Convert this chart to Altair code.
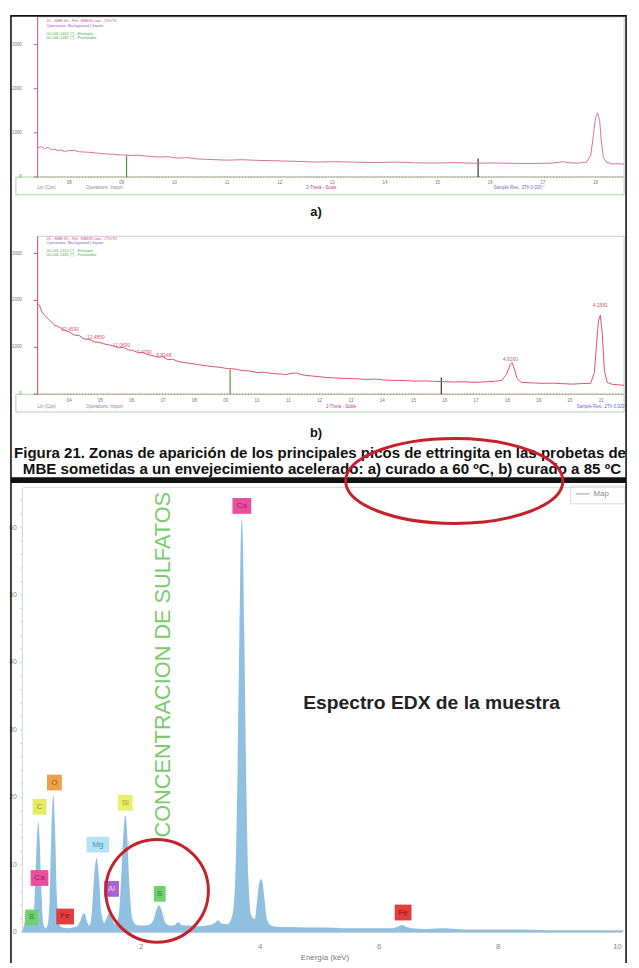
import altair as alt
import pandas as pd

FONT = "Liberation Sans"
W = 631
HA, HB, HC = 164, 220, 545

# ---------------- Panel a) XRD : 2-theta (deg) vs counts ----------------
A_2THETA = [7.40, 7.47, 7.53, 7.60, 7.66, 7.72, 7.79, 7.85, 7.91, 7.98, 8.09, 8.20, 8.38, 8.47,
            8.56, 8.70, 8.84, 8.97, 9.09, 9.20, 9.31, 9.50, 9.69, 9.88, 10.06, 10.25, 10.44,
            10.72, 11.00, 11.28, 11.56, 11.85, 12.13, 12.41, 12.69, 13.06, 13.44, 13.81, 14.19,
            14.56, 14.94, 15.31, 15.69, 16.06, 16.44, 16.81, 17.19, 17.38, 17.52, 17.66, 17.75,
            17.83, 17.91, 17.96, 18.00, 18.04, 18.08, 18.11, 18.15, 18.21, 18.32, 18.43, 18.54]
A_COUNTS = [655, 690, 640, 672, 618, 630, 598, 612, 575, 596, 604, 570, 560, 548, 537, 522, 515,
            500, 498, 486, 492, 470, 452, 460, 428, 440, 408, 395, 382, 392, 378, 370, 360, 352,
            338, 348, 336, 325, 338, 322, 316, 326, 312, 318, 310, 306, 316, 345, 322, 314, 330,
            336, 492, 940, 1342, 1454, 1275, 828, 447, 336, 296, 302, 290]
A_STICK_2THETA = [9.09, 15.77]
A_STICK_COUNTS = [500, 425]
A_YTICKS = [0, 1000, 2000, 3000]
A_XTICKS = [8, 9, 10, 11, 12, 13, 14, 15, 16, 17, 18]
A_XLABELS = ["08", "09", "10", "11", "12", "13", "14", "15", "16", "17", "18"]
A_LEGEND = ["01 - MBE 60 - File: MBE60.raw - 2Th/Th",
            "Operations: Background | Import",
            "00-041-1451 (*) - Ettringite",
            "00-044-1481 (*) - Portlandite"]

# ---------------- Panel b) XRD ----------------
B_2THETA = [2.99, 3.05, 3.12, 3.21, 3.37, 3.53, 3.68, 3.84, 4.00, 4.16,
            4.32, 4.47, 4.63, 4.79, 4.95, 5.10, 5.26, 5.42, 5.58, 5.73,
            5.89, 6.05, 6.21, 6.36, 6.52, 6.68, 6.84, 7.00, 7.15, 7.31,
            7.47, 7.63, 7.79, 7.95, 8.10, 8.34, 8.57, 8.81, 9.05, 9.28,
            9.52, 9.76, 9.99, 10.23, 10.47, 10.70, 10.94, 11.10, 11.26, 11.41,
            11.57, 11.89, 12.20, 12.52, 12.84, 13.15, 13.47, 13.78, 14.10, 14.41,
            14.73, 15.04, 15.36, 15.67, 15.99, 16.30, 16.62, 16.93, 17.25, 17.56,
            17.82, 17.97, 18.09, 18.15, 18.22, 18.31, 18.44, 18.83, 19.14, 19.46,
            19.77, 20.09, 20.40, 20.66, 20.78, 20.84, 20.91, 20.97, 21.03, 21.10,
            21.19, 21.35, 21.54, 21.73]
B_COUNTS = [1937, 1895, 1768, 1684, 1580, 1474, 1430, 1368, 1330, 1263,
            1250, 1179, 1170, 1116, 1110, 1075, 1053, 1030, 989, 1000,
            947, 930, 884, 895, 842, 820, 790, 800, 737, 745,
            700, 680, 665, 650, 632, 610, 589, 575, 547, 540,
            505, 495, 463, 470, 442, 432, 421, 445, 452, 420,
            400, 380, 358, 345, 337, 330, 316, 322, 300, 295,
            290, 280, 284, 274, 268, 260, 266, 253, 262, 274,
            295, 421, 632, 674, 547, 337, 253, 240, 232, 236,
            225, 215, 228, 232, 463, 989, 1558, 1684, 1305, 505,
            253, 211, 200, 189]
B_STICK_2THETA = [9.14, 15.89]
B_STICK_COUNTS = [526, 358]
B_YTICKS = [0, 1000, 2000, 3000]
B_XTICKS = [4, 5, 6, 7, 8, 9, 10, 11, 12, 13, 14, 15, 16, 17, 18, 19, 20, 21]
B_DLAB_TEXT = ["22.4590", "12.4850", "11.0690", "7.4790", "6.8248", "4.9160", "4.2581"]
B_DLAB_2THETA = [4.03, 4.85, 5.67, 6.40, 7.03, 18.10, 20.97]
B_DLAB_COUNTS = [1389, 1221, 1053, 905, 842, 758, 1895]

CAPTION_1 = "Figura 21. Zonas de aparición de los principales picos de ettringita en las probetas de"
CAPTION_2 = "MBE sometidas a un envejecimiento acelerado: a) curado a 60 ºC, b) curado a 85 ºC"

# ---------------- EDX spectrum : energy (keV) vs counts ----------------
EDX_KEV = [0.00, 0.04, 0.08, 0.12, 0.16, 0.19, 0.22, 0.25, 0.27, 0.29, 0.32, 0.35, 0.39, 0.43,
           0.46, 0.49, 0.52, 0.55, 0.58, 0.62, 0.68, 0.76, 0.84, 0.92, 0.98, 1.02, 1.05, 1.08,
           1.13, 1.17, 1.21, 1.25, 1.29, 1.33, 1.38, 1.42, 1.46, 1.50, 1.56, 1.62, 1.67, 1.71,
           1.73, 1.76, 1.80, 1.85, 1.92, 2.02, 2.12, 2.20, 2.26, 2.30, 2.34, 2.40, 2.48, 2.56,
           2.62, 2.68, 2.80, 2.95, 3.10, 3.22, 3.29, 3.35, 3.45, 3.53, 3.58, 3.62, 3.65, 3.67,
           3.69, 3.71, 3.73, 3.76, 3.80, 3.85, 3.91, 3.95, 3.98, 4.01, 4.04, 4.07, 4.11, 4.18,
           4.30, 4.50, 4.80, 5.10, 5.40, 5.70, 6.00, 6.20, 6.30, 6.38, 6.46, 6.55, 6.80, 7.06,
           7.30, 7.60, 8.00, 8.40, 8.80, 9.20, 9.60, 10.00, 10.10]
EDX_COUNTS = [0.0, 1.5, 3.0, 2.6, 1.2, 2.0, 8.0, 14.5, 16.4, 14.0, 6.5, 1.5, 0.6, 1.2,
              5.0, 15.0, 20.3, 15.5, 5.5, 1.2, 0.7, 0.6, 0.7, 0.9, 1.8, 2.7, 2.8, 1.8,
              1.0, 3.0, 8.5, 11.0, 8.0, 2.8, 1.4, 2.2, 2.9, 2.2, 1.2, 2.5, 9.5, 16.0,
              17.4, 15.0, 7.0, 2.0, 1.1, 1.0, 1.1, 1.7, 3.5, 4.0, 3.3, 1.5, 1.0, 1.1,
              1.5, 1.1, 1.0, 0.9, 1.0, 1.3, 1.8, 1.3, 1.2, 2.5, 8.0, 25.0, 45.0, 57.0,
              61.3, 57.0, 45.0, 25.0, 8.0, 2.5, 2.0, 5.0, 7.2, 7.9, 7.2, 5.0, 2.0, 1.0,
              0.8, 0.8, 0.7, 0.7, 0.6, 0.6, 0.6, 0.6, 0.8, 1.1, 0.8, 0.6, 0.5, 0.6,
              0.5, 0.4, 0.4, 0.4, 0.3, 0.3, 0.3, 0.3, 0.3]
EL_TEXT = ["Ca", "C", "O", "Ca", "S", "Fe", "Mg", "Al", "Si", "S", "Fe"]
EL_KEV = [3.69, 0.29, 0.54, 0.29, 0.158, 0.72, 1.27, 1.50, 1.73, 2.31, 6.40]
EL_COUNTS = [63.2, 18.6, 22.2, 8.05, 2.2, 2.34, 13.0, 6.44, 19.2, 5.7, 2.93]
EDX_YTICKS = [0, 10, 20, 30, 40, 50, 60]
EDX_XTICKS = [2, 4, 6, 8, 10]
CIRCLE_KEV = [7.26, 2.265]
CIRCLE_COUNTS = [66.9, 6.15]

# ---------------- styles ----------------
EL_COLORS = {"Ca": ("#e84f9e", "#9c1d5e"), "C": ("#e2ec62", "#8e9618"),
             "O": ("#eca24c", "#9a5a10"), "S": ("#70d070", "#2e7d2e"),
             "Fe": ("#e33d3d", "#8c1010"), "Mg": ("#b5e2f2", "#3c8ec0"),
             "Al": ("#a862d8", "#e6d2f8"), "Si": ("#ecec6e", "#a0a020")}
EL_BOX_W = [19, 14, 15, 18, 13, 18, 23, 15, 15, 12, 17]
EL_BOX_H = 16

dummy = pd.DataFrame({"d": [0]})


def xs(field, dom):
    return alt.X(field, type="quantitative", scale=alt.Scale(domain=dom, nice=False, zero=False), axis=None)


def ys(field, dom):
    return alt.Y(field, type="quantitative", scale=alt.Scale(domain=dom, nice=False, zero=False), axis=None)


def vtext(txt, x, y, size, color, weight="normal", align="center", angle=0):
    return alt.Chart(dummy).mark_text(text=txt, font=FONT, fontSize=size, color=color,
                                      fontWeight=weight, align=align, baseline="middle",
                                      angle=angle).encode(x=alt.value(x), y=alt.value(y))


def vrule(x, x2, y, y2, color, width=1.0, dash=None):
    kw = dict(color=color, strokeWidth=width)
    if dash:
        kw["strokeDash"] = dash
    return alt.Chart(dummy).mark_rule(**kw).encode(
        x=alt.value(x), x2=alt.value(x2), y=alt.value(y), y2=alt.value(y2))


def vrect(x, x2, y, y2, fill="white", fop=0.0, stroke="#000", sw=1.0):
    return alt.Chart(dummy).mark_rect(fill=fill, fillOpacity=fop, stroke=stroke, strokeWidth=sw).encode(
        x=alt.value(x), x2=alt.value(x2), y=alt.value(y), y2=alt.value(y2))


def box_path(w, h):
    s = max(w, h)
    a, b = w / s, h / s
    return f"M{-a:.3f},{-b:.3f}L{a:.3f},{-b:.3f}L{a:.3f},{b:.3f}L{-a:.3f},{b:.3f}Z", s * s


def ellipse_path(ry):
    k = 0.5523
    return (f"M-1,0C-1,{-k*ry:.4f} {-k},{-ry:.4f} 0,{-ry:.4f}C{k},{-ry:.4f} 1,{-k*ry:.4f} 1,0"
            f"C1,{k*ry:.4f} {k},{ry:.4f} 0,{ry:.4f}C{-k},{ry:.4f} -1,{k*ry:.4f} -1,0Z")


def frame_sides(h):
    return [vrule(3, 3, 0, h, "#111", 1.6), vrule(626, 626, 0, h, "#111", 1.6)]


# ================= Panel A =================
XA = [6.837, 18.675]
YA = [0, 3669]
a_df = pd.DataFrame({"t": A_2THETA, "c": A_COUNTS})
a_st = pd.DataFrame({"t": A_STICK_2THETA, "c": A_STICK_COUNTS, "z": [0, 0],
                     "col": ["#3f9f3f", "#333333"]})
a_yt = pd.DataFrame({"v": A_YTICKS, "lab": [str(v) for v in A_YTICKS]})
a_xt = pd.DataFrame({"t": A_XTICKS, "lab": A_XLABELS})

a_layers = [
    vrect(30, 624, 2, 164, stroke="#cfcfcf", sw=1),
    vrect(8, 624, 164, 182, stroke="#a6d8a0", sw=1),
    vrule(30, 30, 2, 164, "#c85a9a", 1),
    vrule(30, 624, 164, 164, "#d9709a", 1, [1, 2]),
    alt.Chart(a_yt).mark_rule(color="#c85a9a", strokeWidth=1).encode(
        y=ys("v", YA), x=alt.value(26), x2=alt.value(30)),
    alt.Chart(a_yt).mark_text(font=FONT, fontSize=4.5, color="#777", align="right", baseline="middle").encode(
        y=ys("v", YA), x=alt.value(14), text="lab:N"),
    alt.Chart(a_xt).mark_text(font=FONT, fontSize=4.5, color="#777", baseline="middle").encode(
        x=xs("t", XA), y=alt.value(170), text="lab:N"),
    alt.Chart(a_st).mark_rule(strokeWidth=1.2).encode(
        x=xs("t", XA), y=ys("c", YA), y2="z:Q", color=alt.Color("col:N", scale=None)),
    alt.Chart(a_df).mark_line(color="#d9709a", strokeWidth=1).encode(x=xs("t", XA), y=ys("c", YA)),
    vtext("Lin (Cps)", 30, 175, 4.5, "#888", align="left"),
    vtext("Operations: Import", 79, 175, 4.5, "#888", align="left"),
    vtext("2-Theta - Scale", 302, 175, 4.5, "#c0409a", align="left"),
    vtext("Sample Res.: 2Th 0.020 °", 492, 175, 4.5, "#6a6ad0", align="left"),
    vtext(A_LEGEND[0], 39, 6, 4, "#d0509a", align="left"),
    vtext(A_LEGEND[1], 39, 11, 4, "#8a5ad0", align="left"),
    vtext(A_LEGEND[2], 39, 19, 4, "#4aaa4a", align="left"),
    vtext(A_LEGEND[3], 39, 23, 4, "#4aaa4a", align="left"),
    vtext("a)", 312, 200, 13, "#111", weight="bold"),
    vrule(3, 626, 0.8, 0.8, "#111", 1.6),
] + frame_sides(HA)
chart_a = alt.layer(*a_layers).properties(width=W, height=HA)

# ================= Panel B =================
XB = [2.044, 21.95]
YB = [0, 4632]
b_df = pd.DataFrame({"t": B_2THETA, "c": B_COUNTS})
b_st = pd.DataFrame({"t": B_STICK_2THETA, "c": B_STICK_COUNTS, "z": [0, 0],
                     "col": ["#3f9f3f", "#333333"]})
b_yt = pd.DataFrame({"v": B_YTICKS, "lab": [str(v) for v in B_YTICKS]})
b_xt = pd.DataFrame({"t": B_XTICKS, "lab": [f"{v:02d}" for v in B_XTICKS]})
b_dl = pd.DataFrame({"t": B_DLAB_2THETA, "c": B_DLAB_COUNTS, "lab": B_DLAB_TEXT})

b_layers = [
    vrect(30, 624, 60, 220, stroke="#d8c4c8", sw=1),
    vrect(8, 624, 220, 238, stroke="#a6d8a0", sw=1),
    vrule(30, 30, 60, 220, "#d4506a", 1),
    vrule(30, 624, 220, 220, "#e0506a", 1, [1, 2]),
    alt.Chart(b_yt).mark_rule(color="#d4506a", strokeWidth=1).encode(
        y=ys("v", YB), x=alt.value(26), x2=alt.value(30)),
    alt.Chart(b_yt).mark_text(font=FONT, fontSize=4.5, color="#777", align="right", baseline="middle").encode(
        y=ys("v", YB), x=alt.value(14), text="lab:N"),
    alt.Chart(b_xt).mark_text(font=FONT, fontSize=4.5, color="#777", baseline="middle").encode(
        x=xs("t", XB), y=alt.value(227), text="lab:N"),
    alt.Chart(b_st).mark_rule(strokeWidth=1.2).encode(
        x=xs("t", XB), y=ys("c", YB), y2="z:Q", color=alt.Color("col:N", scale=None)),
    alt.Chart(b_df).mark_line(color="#e0506a", strokeWidth=1).encode(x=xs("t", XB), y=ys("c", YB)),
    alt.Chart(b_dl).mark_text(font=FONT, fontSize=5, color="#e05a6a", baseline="middle").encode(
        x=xs("t", XB), y=ys("c", YB), text="lab:N"),
    vtext("Lin (Cps)", 30, 233, 4.5, "#888", align="left"),
    vtext("Operations: Import", 79, 233, 4.5, "#888", align="left"),
    vtext("2-Theta - Scale", 322, 233, 4.5, "#c0409a", align="left"),
    vtext("Sample Res.: 2Th 0.020 °", 576, 233, 4.5, "#6a6ad0", align="left"),
    vtext(A_LEGEND[0].replace("60", "85"), 39, 63, 4, "#d0509a", align="left"),
    vtext(A_LEGEND[1], 39, 67, 4, "#8a5ad0", align="left"),
    vtext(A_LEGEND[2], 39, 75, 4, "#4aaa4a", align="left"),
    vtext(A_LEGEND[3], 39, 79, 4, "#4aaa4a", align="left"),
    vtext("b)", 312, 259, 13, "#111", weight="bold"),
    vtext(CAPTION_1, 316, 280, 15.2, "#111", weight="bold"),
    vtext(CAPTION_2, 318, 296, 15.3, "#111", weight="bold"),
] + frame_sides(HB)
chart_b = alt.layer(*b_layers).properties(width=W, height=HB)

# ================= Panel C : EDX =================
XC = [-0.24, 10.23]
YC = [0, 79.76]
c_df = pd.DataFrame({"e": EDX_KEV, "c": EDX_COUNTS})
shp, sz = zip(*[box_path(w, EL_BOX_H) for w in EL_BOX_W])
c_el = pd.DataFrame({"e": EL_KEV, "c": EL_COUNTS, "lab": EL_TEXT,
                     "shp": list(shp), "sz": list(sz),
                     "fillc": [EL_COLORS[t][0] for t in EL_TEXT],
                     "txtc": [EL_COLORS[t][1] for t in EL_TEXT]})
c_yt = pd.DataFrame({"v": EDX_YTICKS, "lab": [str(v) for v in EDX_YTICKS]})
c_minor = pd.DataFrame({"v": list(range(0, 66, 2))})
c_xt = pd.DataFrame({"e": EDX_XTICKS, "lab": [str(v) for v in EDX_XTICKS]})
c_circ = pd.DataFrame({"e": CIRCLE_KEV, "c": CIRCLE_COUNTS,
                       "shp": [ellipse_path(0.391), ellipse_path(1.0)],
                       "sz": [220 * 220, 104 * 104]})

c_layers = [
    vrect(3, 626, 84, 90, fill="#111", fop=1.0, stroke="#111", sw=0),
    vrule(15, 625, 94.5, 94.5, "#dddddd", 1),
    vrect(570, 625, 93, 111, stroke="#d6d6d6", sw=1),
    vrule(575, 589, 101, 101, "#999", 1),
    vtext("Map", 593, 101, 8, "#888", align="left"),
    vrule(14.5, 14.5, 95, HC, "#cfcfcf", 1),
    alt.Chart(c_minor).mark_rule(color="#d8d8d8", strokeWidth=1).encode(
        y=ys("v", YC), x=alt.value(12), x2=alt.value(14.5)),
    alt.Chart(c_yt).mark_text(font=FONT, fontSize=7, color="#888", align="right", baseline="middle").encode(
        y=ys("v", YC), x=alt.value(9), text="lab:N"),
    alt.Chart(c_xt).mark_text(font=FONT, fontSize=8, color="#888", baseline="middle").encode(
        x=xs("e", XC), y=alt.value(560), text="lab:N"),
    vrule(14.5, 622, HC, HC, "#c6c6c6", 1),
    vtext("Energía (keV)", 321, 571, 8, "#777"),
    alt.Chart(c_df).mark_area(color="#8fc0e0", interpolate="monotone", opacity=1).encode(
        x=xs("e", XC), y=ys("c", YC)),
    alt.Chart(c_el).mark_point(filled=True, opacity=1, strokeWidth=0).encode(
        x=xs("e", XC), y=ys("c", YC), shape=alt.Shape("shp:N", scale=None),
        size=alt.Size("sz:Q", scale=None), fill=alt.Fill("fillc:N", scale=None)),
    alt.Chart(c_el).mark_text(font=FONT, fontSize=8, baseline="middle").encode(
        x=xs("e", XC), y=ys("c", YC), text="lab:N", color=alt.Color("txtc:N", scale=None)),
    vtext("CONCENTRACION DE SULFATOS", 157, 274, 22, "#78cc6c", angle=270),
    vtext("Espectro EDX de la muestra", 429, 313, 19.5, "#222", weight="bold"),
    alt.Chart(c_circ).mark_point(filled=False, stroke="#c8202a", strokeWidth=3, opacity=1).encode(
        x=xs("e", XC), y=ys("c", YC), shape=alt.Shape("shp:N", scale=None),
        size=alt.Size("sz:Q", scale=None)),
] + frame_sides(576)
chart_c = alt.layer(*c_layers).properties(width=W, height=HC)

chart = alt.vconcat(chart_a, chart_b, chart_c, spacing=0, bounds="flush", padding=0).configure_view(
    strokeWidth=0)

chart.save("out.html", embed_options={"renderer": "svg", "actions": False})
